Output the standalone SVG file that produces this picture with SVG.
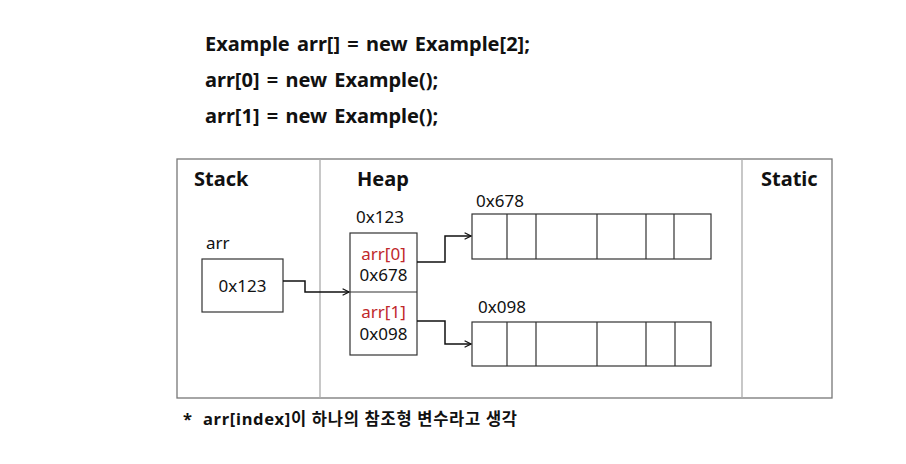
<svg xmlns="http://www.w3.org/2000/svg" width="906" height="464" viewBox="0 0 906 464">
<defs>
<marker id="ah" viewBox="0 0 10 10" refX="9" refY="5" markerWidth="8" markerHeight="8" markerUnits="userSpaceOnUse" orient="auto">
<path d="M1,1 L9,5 L1,9" fill="none" stroke="#111" stroke-width="1.5"/>
</marker>
<style>
text{font-family:"Noto Sans","Noto Sans CJK KR",sans-serif;fill:#111}
.code{font-size:20px;font-weight:bold;word-spacing:2px}
.title{font-size:20px;font-weight:bold}
.lbl{font-size:17px}
.red{fill:#c0282c}
.box{fill:#fff;stroke:#333;stroke-width:1.2}
.conn{fill:none;stroke:#111;stroke-width:1.5;marker-end:url(#ah)}
.note{font-size:16.5px;font-weight:bold}
</style>
</defs>
<rect width="906" height="464" fill="#fff"/>
<g id="code">
<text class="code" x="205" y="51">Example arr[] = new Example[2];</text>
<text class="code" x="205" y="87">arr[0] = new Example();</text>
<text class="code" x="205" y="123">arr[1] = new Example();</text>
</g>
<g id="frame">
<rect x="177" y="159" width="655" height="239" fill="none" stroke="#777" stroke-width="1.3"/>
<line x1="320" y1="159" x2="320" y2="398" stroke="#aaa" stroke-width="1.3"/>
<line x1="742" y1="159" x2="742" y2="398" stroke="#aaa" stroke-width="1.3"/>
<text class="title" x="194" y="186">Stack</text>
<text class="title" x="357" y="186">Heap</text>
<text class="title" x="761" y="186">Static</text>
</g>
<g id="stack-arr">
<text class="lbl" x="206" y="249">arr</text>
<rect class="box" x="202" y="259" width="81" height="53"/>
<text class="lbl" x="242.5" y="292" text-anchor="middle">0x123</text>
</g>
<g id="heap-arr">
<text class="lbl" x="356" y="223">0x123</text>
<rect class="box" x="350" y="233" width="67" height="122"/>
<line x1="350" y1="292" x2="417" y2="292" stroke="#333" stroke-width="1.2"/>
<text class="lbl red" x="383.5" y="260" text-anchor="middle">arr[0]</text>
<text class="lbl" x="383.5" y="281" text-anchor="middle">0x678</text>
<text class="lbl red" x="383.5" y="318" text-anchor="middle">arr[1]</text>
<text class="lbl" x="383.5" y="340" text-anchor="middle">0x098</text>
</g>
<g id="obj-678">
<text class="lbl" x="476" y="207">0x678</text>
<rect class="box" x="472" y="214" width="239" height="45"/>
<path d="M507,214V259M536,214V259M597,214V259M646,214V259M674,214V259" stroke="#333" stroke-width="1.2"/>
</g>
<g id="obj-098">
<text class="lbl" x="478" y="313">0x098</text>
<rect class="box" x="472" y="322" width="239" height="44"/>
<path d="M507,322V366M536,322V366M597,322V366M646,322V366M675,322V366" stroke="#333" stroke-width="1.2"/>
</g>
<g id="connectors">
<path class="conn" d="M283,281H305V292H349"/>
<path class="conn" d="M417,262H445V236H471"/>
<path class="conn" d="M417,321H445V344H471"/>
</g>
<g id="note">
<text class="note" x="183" y="425">*</text>
<text class="note" x="203" y="425" textLength="314" lengthAdjust="spacing">arr[index]이 하나의 참조형 변수라고 생각</text>
</g>
</svg>
